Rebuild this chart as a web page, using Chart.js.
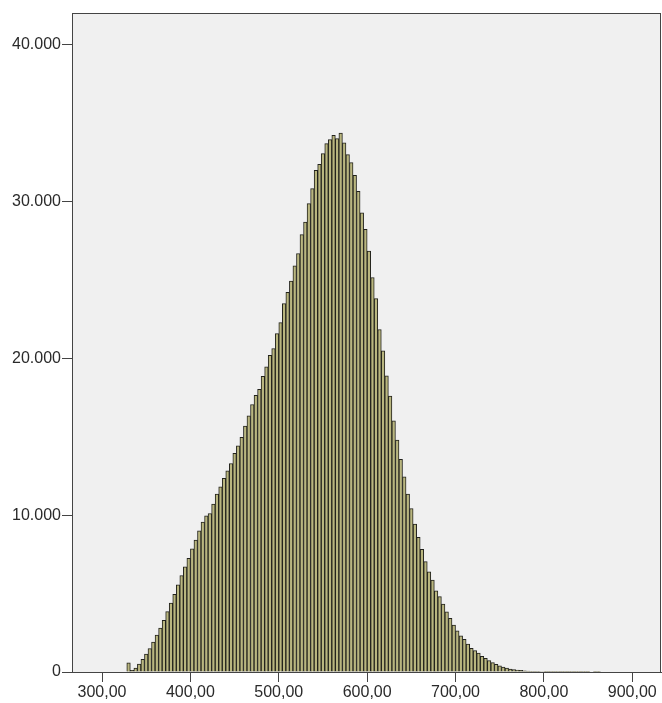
<!DOCTYPE html>
<html>
<head>
<meta charset="utf-8">
<script src="https://cdn.jsdelivr.net/npm/chart.js@4/dist/chart.umd.min.js"></script>
<style>
  html, body { margin: 0; padding: 0; background: #ffffff; }
  #wrap { width: 662px; height: 703px; position: relative; }
</style>
</head>
<body>
<div id="wrap"><canvas id="histChart"></canvas></div>
<script>
// histogram bins: first bin starts at 328, each bin is 4 units wide
const binStart = 328;
const binWidth = 4;
const counts = [
    590, 100, 250, 500, 800, 1150, 1500, 1900, 2350, 2800,
    3300, 3850, 4400, 4950, 5550, 6150, 6700, 7250, 7850, 8400,
    9000, 9550, 9950, 10100, 10700, 11340, 11800, 12340, 12820, 13290,
    13930, 14420, 14950, 15670, 16330, 17050, 17640, 18010, 18850, 19450,
    20190, 20620, 21570, 22270, 23480, 24190, 24920, 25880, 26670, 27880,
    28680, 29850, 30810, 31970, 32360, 33040, 33670, 33930, 34200, 33990,
    34350, 33720, 32970, 32460, 31660, 30640, 29260, 28220, 26820, 25140,
    23800, 21830, 20470, 18870, 17580, 16010, 14780, 13550, 12440, 11340,
    10420, 9430, 8580, 7820, 7030, 6390, 5860, 5180, 4800, 4330,
    3840, 3420, 2990, 2630, 2310, 2080, 1780, 1510, 1360, 1200,
    1000, 870, 720, 600, 490, 390, 320, 250, 190, 150,
    125, 100, 80, 60, 50, 40, 35, 30, 25, 20,
    18, 15, 14, 12, 10, 10, 9, 8, 8, 7,
    6, 0, 8, 8
];
const xTicks = [300, 400, 500, 600, 700, 800, 900];
const yTicks = [0, 10000, 20000, 30000, 40000];
const xRange = [266, 932.5];
const yRange = [0, 42000];

const histData = counts.map((c, i) => ({ x: binStart + binWidth / 2 + i * binWidth, y: c }));

function fmtX(v) {
    return v.toFixed(2).replace('.', ',');
}
function fmtY(v) {
    return String(v).replace(/\B(?=(\d{3})+(?!\d))/g, '.');
}

const framePlugin = {
    id: 'frame',
    beforeDatasetsDraw(chart) {
        const a = chart.chartArea;
        const ctx = chart.ctx;
        ctx.save();
        ctx.fillStyle = '#f0f0f0';
        ctx.fillRect(a.left, a.top, a.right - a.left, a.bottom - a.top);
        ctx.restore();
    },
    afterDatasetsDraw(chart) {
        const a = chart.chartArea;
        const ctx = chart.ctx;
        ctx.save();
        ctx.strokeStyle = '#444444';
        ctx.lineWidth = 1;
        ctx.strokeRect(Math.round(a.left) + 0.5, Math.round(a.top) + 0.5,
            Math.round(a.right - a.left) - 1, Math.round(a.bottom - a.top));
        ctx.restore();
    }
};

const tickFont = { family: 'Liberation Sans, Arial, sans-serif', size: 16 };

const ctx = document.getElementById('histChart').getContext('2d');
new Chart(ctx, {
    type: 'bar',
    data: {
        datasets: [{
            data: histData,
            backgroundColor: '#b9b67f',
            borderColor: '#22221c',
            borderWidth: 1,
            barPercentage: 1,
            categoryPercentage: 1
        }]
    },
    options: {
        responsive: true,
        maintainAspectRatio: false,
        animation: false,
        layout: { padding: { top: 13, right: 1, left: 0, bottom: 0 } },
        plugins: {
            legend: { display: false },
            tooltip: { enabled: false }
        },
        scales: {
            x: {
                type: 'linear',
                offset: false,
                min: xRange[0],
                max: xRange[1],
                afterBuildTicks: scale => { scale.ticks = xTicks.map(v => ({ value: v })); },
                afterFit: scale => { scale.height = 31; },
                ticks: {
                    callback: v => fmtX(v),
                    color: '#2a2a2a',
                    font: tickFont,
                    padding: 1,
                    maxRotation: 0,
                    autoSkip: false
                },
                grid: { offset: false, drawOnChartArea: false, drawTicks: true, tickLength: 10, color: '#444444' },
                border: { color: '#444444' }
            },
            y: {
                min: yRange[0],
                max: yRange[1],
                afterBuildTicks: scale => { scale.ticks = yTicks.map(v => ({ value: v })); },
                afterFit: scale => { scale.width = 72; },
                ticks: {
                    callback: v => fmtY(v),
                    color: '#2a2a2a',
                    font: tickFont,
                    padding: 1
                },
                grid: { drawOnChartArea: false, drawTicks: true, tickLength: 10, color: '#444444' },
                border: { color: '#444444' }
            }
        }
    },
    plugins: [framePlugin]
});
</script>
</body>
</html>
